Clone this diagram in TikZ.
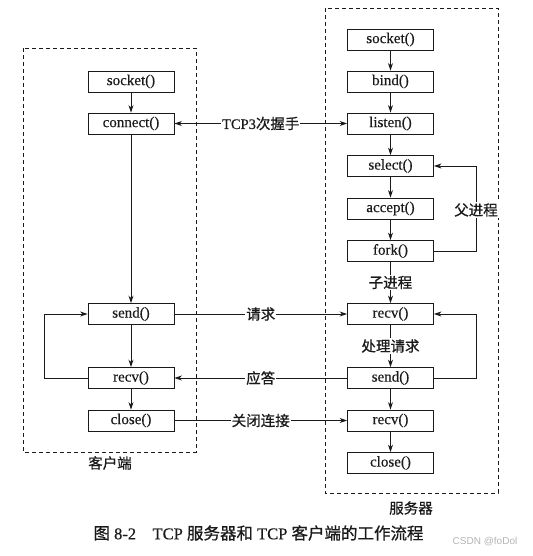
\documentclass[tikz,border=0pt]{standalone}
\usepackage{fontspec}
\setmainfont[FakeBold=0.4]{Liberation Serif}
\newfontfamily\cjk[FakeBold=0.8]{Noto Sans CJK SC}
\newfontfamily\wmfont{Liberation Sans}
\usepackage{xcolor}
\usetikzlibrary{arrows.meta,calc}
\definecolor{ink}{HTML}{1A1A1A}
\definecolor{mark}{HTML}{B4B4B4}
\tikzset{
  >={Stealth[length=7.5pt,width=5pt]},
  fnBox/.style={draw=ink, line width=0.9pt, minimum width=86pt, minimum height=21pt, inner sep=0pt, text=ink, font=\fontsize{15}{17}\selectfont},
  flowArr/.style={->, draw=ink, line width=0.9pt},
  biArr/.style={<->, draw=ink, line width=0.9pt},
  sideBox/.style={draw=ink, dash pattern=on 4pt off 3pt, line width=0.7pt},
  msgLabel/.style={fill=white, inner sep=1pt, text=ink, font=\cjk\fontsize{14.5}{16}\selectfont},
  areaLabel/.style={text=ink, font=\cjk\fontsize{14.5}{16}\selectfont}
}
\begin{document}
\begin{tikzpicture}[x=1pt,y=-1pt]
  \useasboundingbox (0,0) rectangle (532,556);

  \draw[sideBox] (23,48) rectangle (196,452);
  \draw[sideBox] (325,8) rectangle (498,493);

  \node[fnBox] (cSocket) at (131,81.5) {socket()};
  \node[fnBox] (cConnect) at (131,123.5) {connect()};
  \node[fnBox] (cSend) at (131,314) {send()};
  \node[fnBox] (cRecv) at (131,378) {recv()};
  \node[fnBox] (cClose) at (131,420.5) {close()};

  \node[fnBox] (sSocket) at (390.5,39.5) {socket()};
  \node[fnBox] (sBind) at (390.5,81.5) {bind()};
  \node[fnBox] (sListen) at (390.5,123.5) {listen()};
  \node[fnBox] (sSelect) at (390.5,166) {select()};
  \node[fnBox] (sAccept) at (390.5,208.5) {accept()};
  \node[fnBox] (sFork) at (390.5,251) {fork()};
  \node[fnBox] (sRecv) at (390.5,314) {recv()};
  \node[fnBox] (sSend) at (390.5,378) {send()};
  \node[fnBox] (sRecvEnd) at (390.5,420.5) {recv()};
  \node[fnBox] (sClose) at (390.5,463) {close()};

  \draw[flowArr] (cSocket) -- (cConnect);
  \draw[flowArr] (cConnect) -- (cSend);
  \draw[flowArr] (cSend) -- (cRecv);
  \draw[flowArr] (cRecv) -- (cClose);
  \draw[flowArr] (cRecv.west) -- ++(-43,0) |- (cSend.west);

  \draw[flowArr] (sSocket) -- (sBind);
  \draw[flowArr] (sBind) -- (sListen);
  \draw[flowArr] (sListen) -- (sSelect);
  \draw[flowArr] (sSelect) -- (sAccept);
  \draw[flowArr] (sAccept) -- (sFork);
  \draw[flowArr] (sFork) -- (sRecv);
  \draw[flowArr] (sRecv) -- (sSend);
  \draw[flowArr] (sSend) -- (sRecvEnd);
  \draw[flowArr] (sRecvEnd) -- (sClose);
  \draw[flowArr] (sFork.east) -- ++(42,0) |- (sSelect.east);
  \draw[flowArr] (sSend.east) -- ++(42,0) |- (sRecv.east);

  \node[msgLabel] (childLbl) at ($(sFork.south)!0.5!(sRecv.north)$) {子进程};
  \node[msgLabel] (handleLbl) at ($(sRecv.south)!0.5!(sSend.north)$) {处理请求};
  \node[msgLabel] (parentLbl) at (476,210) {父进程};

  \draw[biArr] (cConnect.east) -- (sListen.west);
  \draw[flowArr] (cSend.east) -- (sRecv.west);
  \draw[flowArr] (sSend.west) -- (cRecv.east);
  \draw[flowArr] (cClose.east) -- (sRecvEnd.west);

  \node[msgLabel] (shakeLbl) at ($(cConnect.east)!0.5!(sListen.west)$) {{\rmfamily TCP3}次握手};
  \node[msgLabel] (reqLbl) at ($(cSend.east)!0.5!(sRecv.west)$) {请求};
  \node[msgLabel] (ackLbl) at ($(sSend.west)!0.5!(cRecv.east)$) {应答};
  \node[msgLabel] (closeLbl) at ($(cClose.east)!0.5!(sRecvEnd.west)$) {关闭连接};

  \node[areaLabel] (clientLbl) at (110,463) {客户端};
  \node[areaLabel] (serverLbl) at (411,508) {服务器};

  \node[text=ink, font=\fontsize{16.5}{19}\selectfont] (caption) at (258.5,533)
    {{\cjk 图} 8-2\quad TCP {\cjk 服务器和} TCP {\cjk 客户端的工作流程}};
  \node[text=mark, font=\wmfont\fontsize{10}{12}\selectfont] (wmark) at (485,542) {CSDN @foDol};
\end{tikzpicture}
\end{document}
